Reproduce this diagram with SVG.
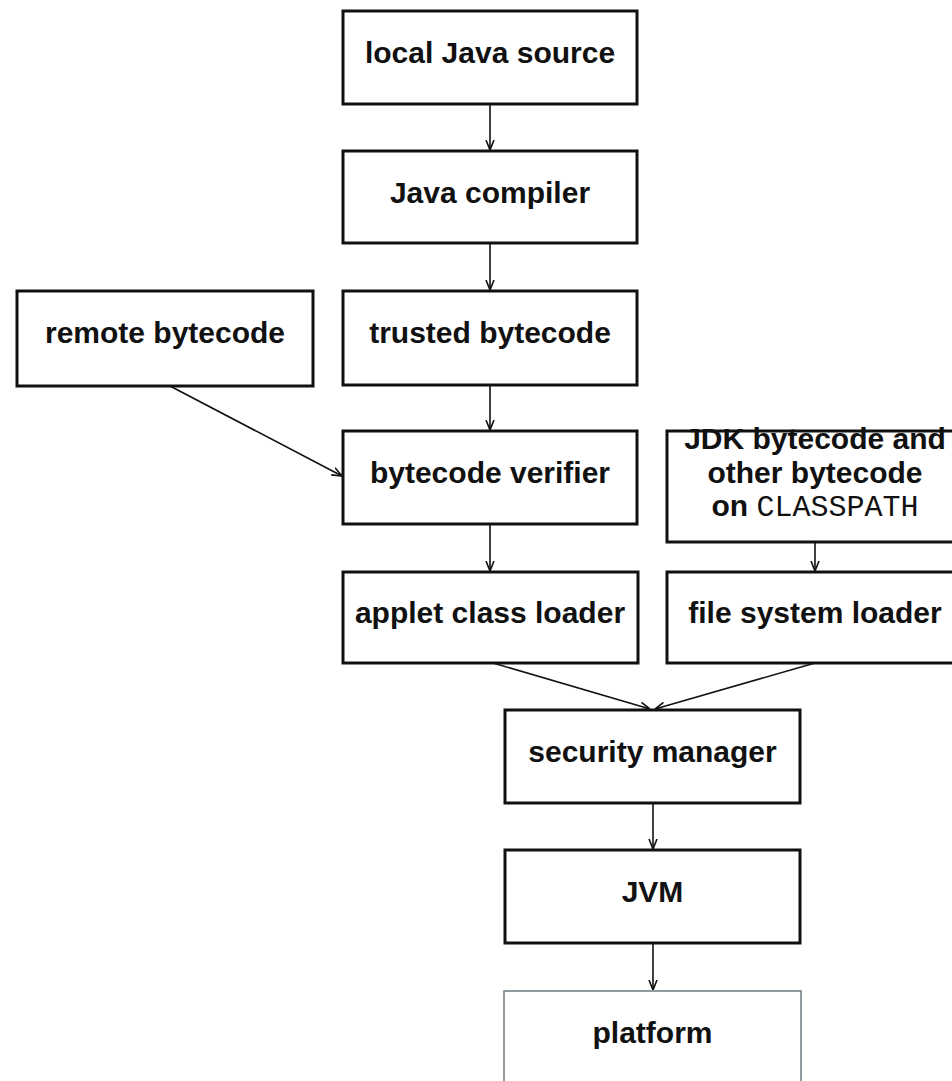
<svg xmlns="http://www.w3.org/2000/svg" width="952" height="1081" viewBox="0 0 952 1081">
<style>
.box{fill:#fff;stroke:#111;stroke-width:3}
.box2{fill:#fff;stroke:#6b7b80;stroke-width:1.5}
.t{font-family:"Liberation Sans",Arial,sans-serif;font-weight:bold;font-size:30px;fill:#111;text-anchor:middle}
.m{font-family:"Liberation Mono","Courier New",monospace;font-weight:normal;font-size:30px}
.c{stroke:#111;stroke-width:1.6;fill:none;marker-end:url(#ah)}
</style>
<defs>
<marker id="ah" viewBox="0 0 10 10" refX="10" refY="5" markerWidth="10" markerHeight="10" markerUnits="userSpaceOnUse" orient="auto">
<path d="M0,1 L10,5 L0,9" fill="none" stroke="#111" stroke-width="1.6"/>
</marker>
</defs>
<rect width="952" height="1081" fill="#fff"/>
<g id="connectors">
<line class="c" x1="490" y1="104" x2="490" y2="150"/>
<line class="c" x1="490" y1="243" x2="490" y2="290"/>
<line class="c" x1="490" y1="385" x2="490" y2="430"/>
<line class="c" x1="170" y1="386" x2="342" y2="476"/>
<line class="c" x1="490" y1="524" x2="490" y2="571"/>
<line class="c" x1="815" y1="542" x2="815" y2="571"/>
<line class="c" x1="493" y1="663" x2="650" y2="709"/>
<line class="c" x1="815" y1="663" x2="655" y2="709"/>
<line class="c" x1="653" y1="803" x2="653" y2="849"/>
<line class="c" x1="653" y1="943" x2="653" y2="990"/>
</g>
<g id="local-java-source"><rect class="box" x="343" y="11" width="294" height="93"/><text class="t" x="490" y="63">local Java source</text></g>
<g id="java-compiler"><rect class="box" x="343" y="151" width="294" height="92"/><text class="t" x="490" y="203">Java compiler</text></g>
<g id="remote-bytecode"><rect class="box" x="17" y="291" width="296" height="95"/><text class="t" x="165" y="343">remote bytecode</text></g>
<g id="trusted-bytecode"><rect class="box" x="343" y="291" width="294" height="94"/><text class="t" x="490" y="343">trusted bytecode</text></g>
<g id="bytecode-verifier"><rect class="box" x="343" y="431" width="294" height="93"/><text class="t" x="490" y="483">bytecode verifier</text></g>
<g id="jdk-bytecode"><rect class="box" x="667" y="431" width="295" height="111"/>
<text class="t" x="815" y="449">JDK bytecode and</text>
<text class="t" x="815" y="483">other bytecode</text>
<text class="t" x="815" y="516">on <tspan class="m">CLASSPATH</tspan></text></g>
<g id="applet-class-loader"><rect class="box" x="343" y="572" width="295" height="91"/><text class="t" x="490" y="623">applet class loader</text></g>
<g id="file-system-loader"><rect class="box" x="667" y="572" width="295" height="91"/><text class="t" x="815" y="623">file system loader</text></g>
<g id="security-manager"><rect class="box" x="505" y="710" width="295" height="93"/><text class="t" x="652.5" y="762">security manager</text></g>
<g id="jvm"><rect class="box" x="505" y="850" width="295" height="93"/><text class="t" x="652.5" y="902">JVM</text></g>
<g id="platform"><rect class="box2" x="504" y="991" width="297" height="100"/><text class="t" x="652.5" y="1043">platform</text></g>
</svg>
